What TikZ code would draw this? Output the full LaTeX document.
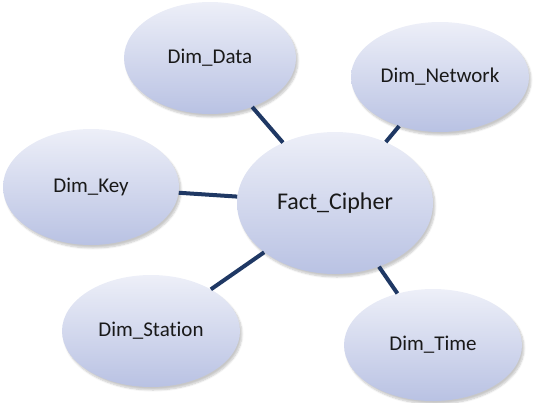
\documentclass[tikz,border=0pt]{standalone}
\usepackage{fontspec}
\setmainfont{Carlito}[Ligatures={NoCommon,NoRare}]
\usetikzlibrary{shapes.geometric,shadows.blur}
\definecolor{topc}{HTML}{EDEFF8}
\definecolor{botc}{HTML}{B9C2E3}
\definecolor{linec}{HTML}{1F3864}
\tikzset{
  ell/.style={ellipse, inner sep=0pt, top color=topc, bottom color=botc, draw=none,
    blur shadow={shadow xshift=2pt, shadow yshift=-3pt, shadow blur steps=6, shadow opacity=22},
    font=\fontsize{21}{23}\selectfont, text=black!90},
  link/.style={draw=linec, line width=4pt}
}
\begin{document}
\begin{tikzpicture}[x=1pt,y=-1pt]
\useasboundingbox (0,0) rectangle (538,402);
\node[ell, minimum width=172pt, minimum height=112pt] (data) at (210,58) {Dim\_Data};
\node[ell, minimum width=178pt, minimum height=110pt] (net) at (440,77) {Dim\_Network};
\node[ell, minimum width=176pt, minimum height=116pt] (key) at (91,187) {Dim\_Key};
\node[ell, minimum width=196pt, minimum height=142pt, font=\fontsize{24}{26}\selectfont] (fact) at (335,203) {Fact\_Cipher};
\node[ell, minimum width=178pt, minimum height=112pt] (sta) at (151,331) {Dim\_Station};
\node[ell, minimum width=178pt, minimum height=112pt] (time) at (433,345) {Dim\_Time};
\draw[link] (data) -- (fact);
\draw[link] (net) -- (fact);
\draw[link] (key) -- (fact);
\draw[link] (sta) -- (fact);
\draw[link] (time) -- (fact);
\end{tikzpicture}
\end{document}
